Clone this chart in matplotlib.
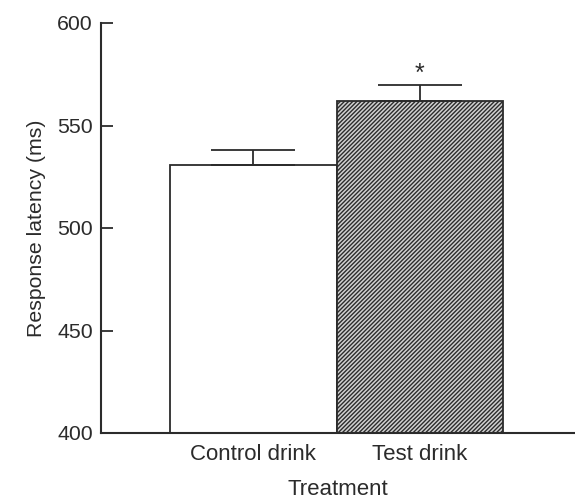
import matplotlib
matplotlib.use("Agg")
import matplotlib.pyplot as plt

categories = ["Control drink", "Test drink"]
means = [530.7, 562.1]
sem = [7.4, 7.5]

plt.rcParams['font.family'] = ['Liberation Sans', 'DejaVu Sans']
plt.rcParams['hatch.linewidth'] = 1.0
ink = '#2b2b2b'
plt.rcParams['hatch.color'] = '#333333'

fig = plt.figure(figsize=(5.75, 5.04), dpi=100)
ax = fig.add_axes([101/575, 71/504, 474/575, 410/504])

x = list(range(len(categories)))
ax.bar(x[0], means[0], width=1.0, bottom=0, color='white', edgecolor=ink, linewidth=1.3, zorder=2)
ax.bar(x[1], means[1], width=1.0, bottom=0, color='#d0d0d0', edgecolor=ink, linewidth=1.3,
       hatch='////////', zorder=2)
ax.errorbar(x, means, yerr=[[0, 0], sem], fmt='none', ecolor=ink, elinewidth=1.3,
            capsize=30.5, capthick=1.3, zorder=3)
ax.text(x[1], means[1] + sem[1] + 5.5, '*', ha='center', va='center', fontsize=18, color=ink)

ax.set_ylim(400, 600)
ax.set_xlim(-0.913, 1.931)
ax.set_yticks([400, 450, 500, 550, 600])
ax.set_xticks(x)
ax.set_xticklabels(categories)
ax.tick_params(axis='y', direction='in', length=8.5, width=1.3, color=ink, labelsize=15.3,
               labelcolor=ink, pad=6)
ax.tick_params(axis='x', length=0, labelsize=16, labelcolor=ink, pad=8)
for s in ['top', 'right']:
    ax.spines[s].set_visible(False)
for s in ['left', 'bottom']:
    ax.spines[s].set_color(ink)
    ax.spines[s].set_linewidth(1.5)
ax.spines['bottom'].set_zorder(4)
ax.set_xlabel('Treatment', fontsize=16, color=ink, labelpad=10)
ax.set_ylabel('Response latency (ms)', fontsize=15.3, color=ink, labelpad=8)

fig.savefig('out.png', dpi=100)
